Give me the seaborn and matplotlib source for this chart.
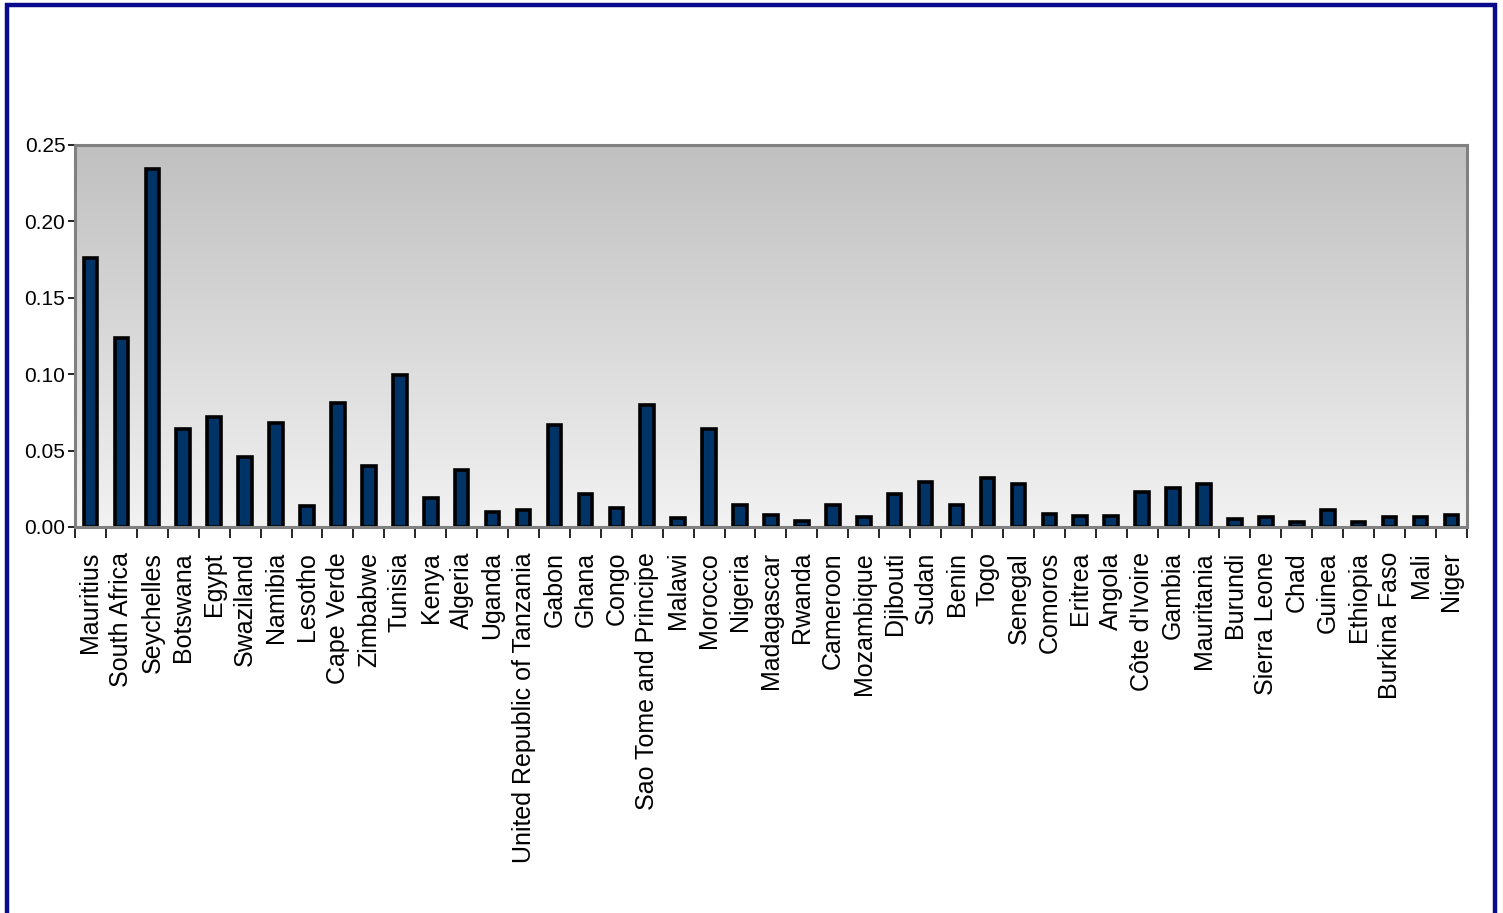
import matplotlib
matplotlib.use("Agg")
import matplotlib.pyplot as plt
from matplotlib.patches import Rectangle
from matplotlib import font_manager
import numpy as np
import pandas as pd
import seaborn as sns

countries = [
    "Mauritius", "South Africa", "Seychelles", "Botswana", "Egypt", "Swaziland",
    "Namibia", "Lesotho", "Cape Verde", "Zimbabwe", "Tunisia", "Kenya", "Algeria",
    "Uganda", "United Republic of Tanzania", "Gabon", "Ghana", "Congo",
    "Sao Tome and Principe", "Malawi", "Morocco", "Nigeria", "Madagascar", "Rwanda",
    "Cameroon", "Mozambique", "Djibouti", "Sudan", "Benin", "Togo", "Senegal",
    "Comoros", "Eritrea", "Angola", "Côte d'Ivoire", "Gambia", "Mauritania",
    "Burundi", "Sierra Leone", "Chad", "Guinea", "Ethiopia", "Burkina Faso",
    "Mali", "Niger",
]
values = [
    0.176, 0.1235, 0.234, 0.064, 0.072, 0.0458,
    0.068, 0.0137, 0.081, 0.040, 0.0995, 0.0192, 0.0370,
    0.0095, 0.0112, 0.0666, 0.0218, 0.0125,
    0.080, 0.0059, 0.0640, 0.0147, 0.0080, 0.0041,
    0.0145, 0.0064, 0.0216, 0.0296, 0.0147, 0.0318, 0.0279,
    0.0087, 0.0074, 0.0072, 0.0227, 0.0252, 0.0281,
    0.0049, 0.0063, 0.0031, 0.0110, 0.0032, 0.0067,
    0.0067, 0.0076,
]
y_ticks = [0.00, 0.05, 0.10, 0.15, 0.20, 0.25]
y_tick_labels = ["0.00", "0.05", "0.10", "0.15", "0.20", "0.25"]

df = pd.DataFrame({"country": countries, "value": values})

sns.set_theme(style="white")
plt.rcParams["font.family"] = ["Liberation Sans", "DejaVu Sans"]

narrow = "Liberation Sans Narrow"
installed = {f.name for f in font_manager.fontManager.ttflist}
tick_family = [narrow, "Liberation Sans", "DejaVu Sans"] if narrow in installed else ["Liberation Sans", "DejaVu Sans"]

fig = plt.figure(figsize=(15.03, 9.13), dpi=100)
fig.patch.set_facecolor("white")
ax = fig.add_axes([0.0499, 0.4228, 0.9261, 0.4184])

# gradient plot area, dark grey at top fading to near white
grad = np.linspace(0, 1, 256).reshape(-1, 1)
top_c = np.array([192, 192, 192]) / 255
bot_c = np.array([242, 242, 242]) / 255
img = top_c * (1 - grad[..., None]) + bot_c * grad[..., None]
ax.imshow(img, extent=(-0.5, len(countries) - 0.5, 0, 0.25),
          aspect="auto", origin="upper", zorder=0)

sns.barplot(data=df, x="country", y="value", ax=ax, color="#003366",
            saturation=1, width=0.44, edgecolor="black", linewidth=2.6,
            zorder=3)

ax.set_xlim(-0.5, len(countries) - 0.5)
ax.set_ylim(0, 0.25)
ax.set_xlabel("")
ax.set_ylabel("")

ax.set_yticks(y_ticks)
ax.set_yticklabels(y_tick_labels, family=tick_family, fontsize=15)
ax.set_xticks(np.arange(len(countries)))
ax.set_xticklabels(countries, rotation=90, fontsize=18, va="top", ha="center")
ax.tick_params(axis="x", which="major", length=0, pad=18)
ax.tick_params(axis="y", which="major", length=5, width=1.2, color="black",
               direction="out", left=True, pad=2, labelcolor="black")
ax.tick_params(axis="x", labelcolor="black")

# boundary ticks between categories
ax.set_xticks(np.arange(len(countries) + 1) - 0.5, minor=True)
ax.tick_params(axis="x", which="minor", length=8, width=1.2, color="black",
               direction="out", bottom=True)

for side in ["top", "right", "left", "bottom"]:
    ax.spines[side].set_visible(True)
    ax.spines[side].set_color("#808080")
    ax.spines[side].set_linewidth(2.2)
ax.spines["bottom"].set_zorder(4)

# frame around the whole chart
fig.patches.append(Rectangle((0.0045, -0.02), 0.9905, 1.014,
                             transform=fig.transFigure, fill=False,
                             edgecolor="#0A0A8C", linewidth=3.2))

fig.savefig("out.png", dpi=100, facecolor="white")
